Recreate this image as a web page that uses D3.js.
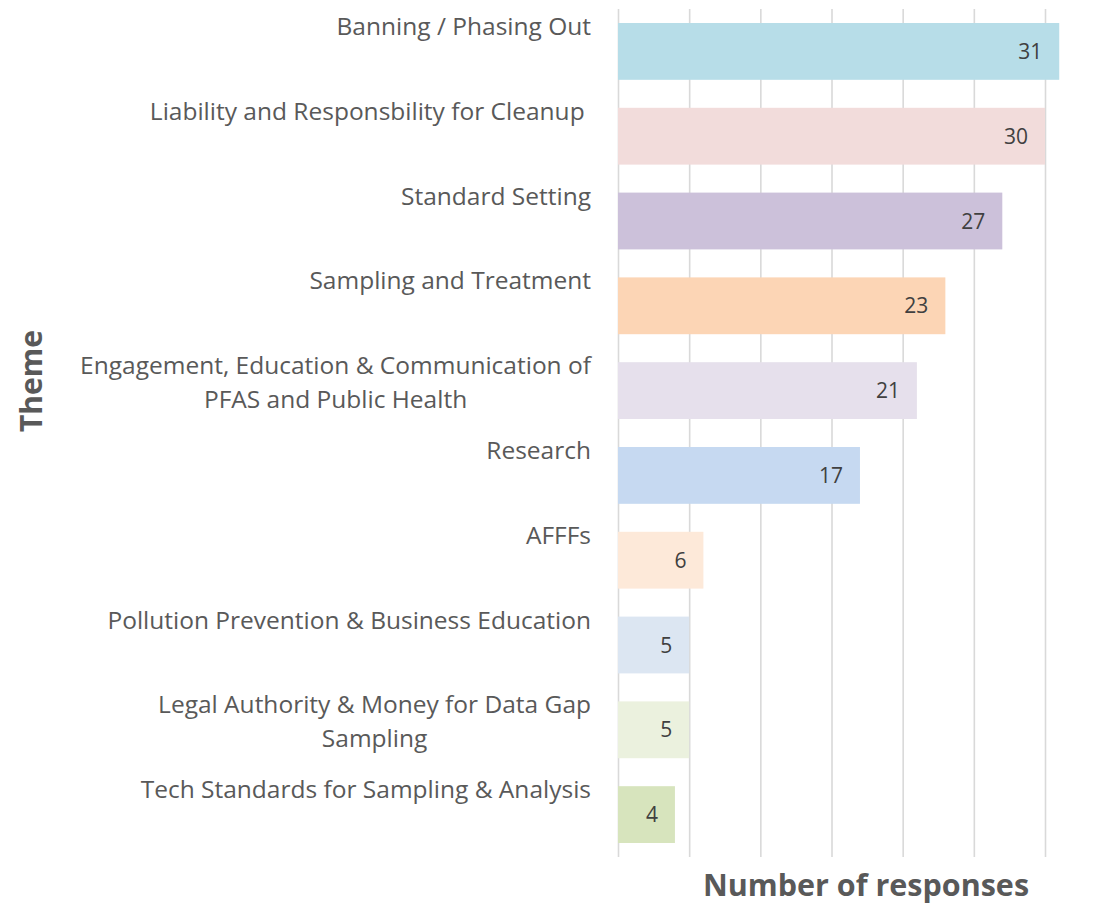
<!DOCTYPE html>
<html lang="en">
<head>
    <meta charset="UTF-8">
    <title>PFAS Themes</title>
    <script src="https://cdn.jsdelivr.net/npm/d3@7"></script>
    <style>
        body { margin: 0; background: #fff; }
        text { font-family: "Open Sans", Lato, sans-serif; }
    </style>
</head>
<body>
    <div id="chart-space"></div>

    <script>
        // data
        var themes = [
            ["Banning / Phasing Out"],
            ["Liability and Responsbility for Cleanup "],
            ["Standard Setting"],
            ["Sampling and Treatment"],
            ["Engagement, Education & Communication of", "PFAS and Public Health"],
            ["Research"],
            ["AFFFs"],
            ["Pollution Prevention & Business Education"],
            ["Legal Authority & Money for Data Gap", "Sampling"],
            ["Tech Standards for Sampling & Analysis"]
        ];
        var responses = [31, 30, 27, 23, 21, 17, 6, 5, 5, 4];
        var barColors = ["#b7dde8", "#f2dcdb", "#ccc1da", "#fcd5b5", "#e6e0ec",
                         "#c6d9f1", "#fde9d9", "#dce6f2", "#ebf1de", "#d7e4bd"];
        var gridTicks = [0, 5, 10, 15, 20, 25, 30];

        var width = 1101;
        var height = 904;

        var svg = d3.select("#chart-space")
            .append("svg")
            .attr("width", width)
            .attr("height", height);

        var idx = d3.range(responses.length);

        var xScale = d3.scaleLinear()
            .domain([0, 30])
            .range([618, 1045]);

        var yScale = d3.scaleBand()
            .domain(idx)
            .range([9, 857])
            .paddingInner(0.33)
            .paddingOuter(0.165);

        // gridlines via axis
        var grid = svg.append("g")
            .attr("transform", "translate(0,857)")
            .call(d3.axisBottom(xScale).tickValues(gridTicks).tickSize(-848).tickFormat(""));
        grid.select(".domain").remove();
        grid.selectAll("line")
            .attr("stroke", "#d9d9d9")
            .attr("stroke-width", 1.6);

        // bars
        svg.selectAll("rect.bar")
            .data(idx)
            .join("rect")
            .attr("class", "bar")
            .attr("x", xScale(0))
            .attr("y", function(i) { return yScale(i); })
            .attr("width", function(i) { return xScale(responses[i]) - xScale(0); })
            .attr("height", yScale.bandwidth())
            .attr("fill", function(i) { return barColors[i]; });

        // value labels
        svg.selectAll("text.val")
            .data(idx)
            .join("text")
            .attr("class", "val")
            .attr("x", function(i) { return xScale(responses[i]) - 17; })
            .attr("y", function(i) { return yScale(i) + yScale.bandwidth() / 2 + 7.5; })
            .attr("text-anchor", "end")
            .attr("font-size", 21)
            .attr("fill", "#404040")
            .text(function(i) { return responses[i]; });

        // category labels
        var labels = svg.selectAll("text.cat")
            .data(idx)
            .join("text")
            .attr("class", "cat")
            .attr("text-anchor", "middle")
            .attr("font-size", 24.5)
            .attr("fill", "#595959")
            .attr("y", function(i) { return yScale(i) + 12; });

        labels.each(function(i) {
            var t = d3.select(this);
            var lines = themes[i];
            if (lines.length == 1) {
                t.attr("text-anchor", "end").attr("x", 591).style("white-space", "pre");
                t.text(lines[0]);
            } else {
                // multi-line: center lines under the first line's extent
                var tmp = t.append("tspan").text(lines[0]).attr("x", 0);
                var w = tmp.node().getComputedTextLength();
                tmp.remove();
                var cx = 591 - w / 2;
                lines.forEach(function(l, k) {
                    t.append("tspan")
                        .attr("x", cx)
                        .attr("dy", k == 0 ? 0 : 34)
                        .text(l);
                });
            }
        });

        // axis titles
        svg.append("text")
            .attr("x", 866)
            .attr("y", 896)
            .attr("text-anchor", "middle")
            .attr("font-size", 30.5)
            .attr("font-weight", "bold")
            .attr("fill", "#595959")
            .text("Number of responses");

        svg.append("text")
            .attr("transform", "translate(42,381) rotate(-90)")
            .attr("text-anchor", "middle")
            .attr("font-size", 30)
            .attr("font-weight", "bold")
            .attr("fill", "#595959")
            .text("Theme");
    </script>
</body>
</html>
